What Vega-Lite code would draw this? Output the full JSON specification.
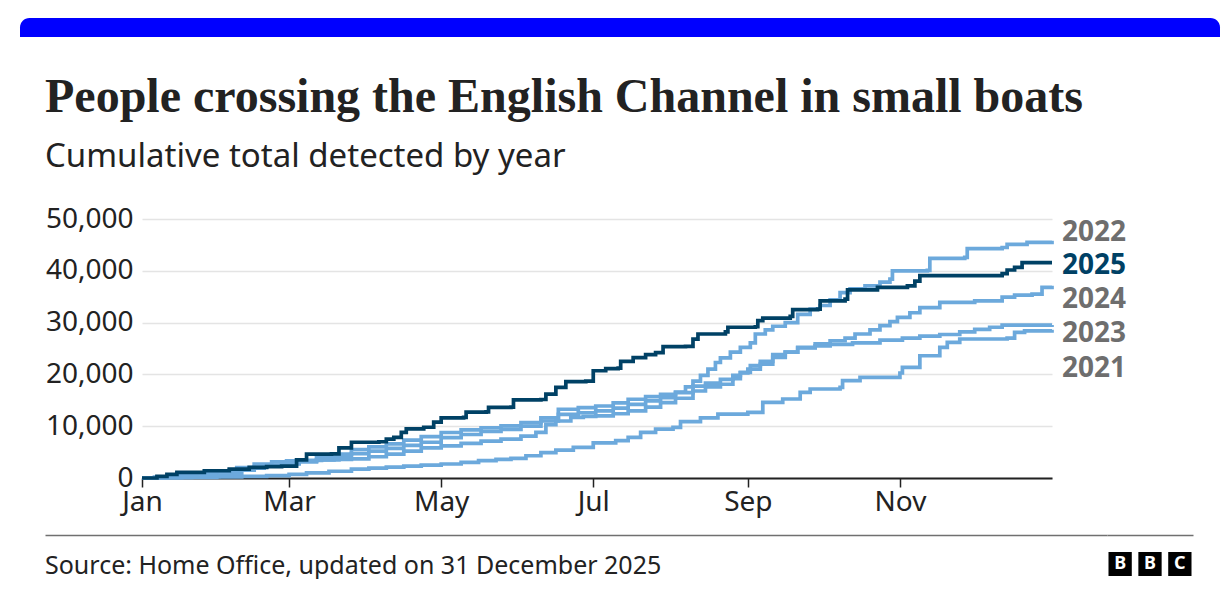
{
  "$schema": "https://vega.github.io/schema/vega-lite/v6.json",
  "background": "#ffffff",
  "padding": {"left": 20, "top": 18, "right": 2, "bottom": 0},
  "config": {"view": {"stroke": null}, "font": "Noto Sans"},
  "datasets": {
    "crossings": [
      {"year":"2021","day":0,"n":0},{"year":"2021","day":10,"n":50},{"year":"2021","day":20,"n":100},{"year":"2021","day":30,"n":200},{"year":"2021","day":40,"n":300},{"year":"2021","day":50,"n":450},{"year":"2021","day":59,"n":700},{"year":"2021","day":66,"n":1000},{"year":"2021","day":75,"n":1300},{"year":"2021","day":84,"n":1700},{"year":"2021","day":91,"n":1900},{"year":"2021","day":98,"n":2100},{"year":"2021","day":105,"n":2300},{"year":"2021","day":112,"n":2500},{"year":"2021","day":120,"n":2700},{"year":"2021","day":128,"n":3000},{"year":"2021","day":135,"n":3350},{"year":"2021","day":142,"n":3600},{"year":"2021","day":148,"n":3800},{"year":"2021","day":154,"n":4300},{"year":"2021","day":160,"n":4900},{"year":"2021","day":166,"n":5400},{"year":"2021","day":173,"n":5900},{"year":"2021","day":181,"n":6800},{"year":"2021","day":190,"n":7200},{"year":"2021","day":195,"n":7850},{"year":"2021","day":200,"n":8800},{"year":"2021","day":206,"n":9450},{"year":"2021","day":213,"n":9780},{"year":"2021","day":216,"n":10900},{"year":"2021","day":224,"n":11600},{"year":"2021","day":231,"n":12350},{"year":"2021","day":243,"n":12680},{"year":"2021","day":249,"n":14600},{"year":"2021","day":257,"n":15250},{"year":"2021","day":264,"n":16540},{"year":"2021","day":268,"n":17180},{"year":"2021","day":280,"n":17500},{"year":"2021","day":281,"n":18780},{"year":"2021","day":288,"n":19430},{"year":"2021","day":304,"n":20270},{"year":"2021","day":305,"n":21370},{"year":"2021","day":312,"n":23600},{"year":"2021","day":320,"n":25230},{"year":"2021","day":323,"n":26200},{"year":"2021","day":328,"n":26830},{"year":"2021","day":347,"n":27000},{"year":"2021","day":350,"n":28120},{"year":"2021","day":354,"n":28400},{"year":"2021","day":365,"n":28630},
      {"year":"2022","day":0,"n":0},{"year":"2022","day":5,"n":150},{"year":"2022","day":12,"n":500},{"year":"2022","day":20,"n":900},{"year":"2022","day":28,"n":1200},{"year":"2022","day":35,"n":1500},{"year":"2022","day":42,"n":1900},{"year":"2022","day":49,"n":2300},{"year":"2022","day":56,"n":2700},{"year":"2022","day":63,"n":3100},{"year":"2022","day":70,"n":3500},{"year":"2022","day":77,"n":4000},{"year":"2022","day":84,"n":4700},{"year":"2022","day":91,"n":5200},{"year":"2022","day":98,"n":5700},{"year":"2022","day":105,"n":6300},{"year":"2022","day":112,"n":6900},{"year":"2022","day":120,"n":7800},{"year":"2022","day":128,"n":8400},{"year":"2022","day":136,"n":9000},{"year":"2022","day":144,"n":9400},{"year":"2022","day":152,"n":10000},{"year":"2022","day":160,"n":11000},{"year":"2022","day":167,"n":12300},{"year":"2022","day":175,"n":12600},{"year":"2022","day":182,"n":12950},{"year":"2022","day":189,"n":13500},{"year":"2022","day":195,"n":14200},{"year":"2022","day":202,"n":14900},{"year":"2022","day":208,"n":15500},{"year":"2022","day":214,"n":16600},{"year":"2022","day":218,"n":17600},{"year":"2022","day":221,"n":18700},{"year":"2022","day":224,"n":19800},{"year":"2022","day":227,"n":21000},{"year":"2022","day":230,"n":22300},{"year":"2022","day":232,"n":23200},{"year":"2022","day":236,"n":24300},{"year":"2022","day":240,"n":25200},{"year":"2022","day":244,"n":26100},{"year":"2022","day":246,"n":27800},{"year":"2022","day":250,"n":28600},{"year":"2022","day":253,"n":29300},{"year":"2022","day":258,"n":30000},{"year":"2022","day":263,"n":31600},{"year":"2022","day":268,"n":32600},{"year":"2022","day":272,"n":33300},{"year":"2022","day":276,"n":34400},{"year":"2022","day":280,"n":35800},{"year":"2022","day":284,"n":36500},{"year":"2022","day":290,"n":37100},{"year":"2022","day":296,"n":37800},{"year":"2022","day":300,"n":38400},{"year":"2022","day":301,"n":40000},{"year":"2022","day":315,"n":40100},{"year":"2022","day":316,"n":42400},{"year":"2022","day":330,"n":42600},{"year":"2022","day":331,"n":44300},{"year":"2022","day":345,"n":44500},{"year":"2022","day":347,"n":45100},{"year":"2022","day":355,"n":45500},{"year":"2022","day":365,"n":45800},
      {"year":"2023","day":0,"n":0},{"year":"2023","day":6,"n":100},{"year":"2023","day":14,"n":400},{"year":"2023","day":22,"n":800},{"year":"2023","day":30,"n":1200},{"year":"2023","day":38,"n":2000},{"year":"2023","day":45,"n":2700},{"year":"2023","day":52,"n":3100},{"year":"2023","day":58,"n":3300},{"year":"2023","day":65,"n":3400},{"year":"2023","day":72,"n":3500},{"year":"2023","day":79,"n":3600},{"year":"2023","day":84,"n":3700},{"year":"2023","day":91,"n":4100},{"year":"2023","day":98,"n":4600},{"year":"2023","day":105,"n":5200},{"year":"2023","day":112,"n":5800},{"year":"2023","day":120,"n":6200},{"year":"2023","day":128,"n":6700},{"year":"2023","day":136,"n":7100},{"year":"2023","day":144,"n":7500},{"year":"2023","day":152,"n":8100},{"year":"2023","day":158,"n":8800},{"year":"2023","day":162,"n":10300},{"year":"2023","day":166,"n":11000},{"year":"2023","day":172,"n":11700},{"year":"2023","day":177,"n":11900},{"year":"2023","day":182,"n":12000},{"year":"2023","day":189,"n":12400},{"year":"2023","day":195,"n":12950},{"year":"2023","day":202,"n":13700},{"year":"2023","day":208,"n":14550},{"year":"2023","day":214,"n":15400},{"year":"2023","day":221,"n":16800},{"year":"2023","day":226,"n":17600},{"year":"2023","day":232,"n":18100},{"year":"2023","day":237,"n":19200},{"year":"2023","day":240,"n":20300},{"year":"2023","day":243,"n":21000},{"year":"2023","day":248,"n":22000},{"year":"2023","day":253,"n":23300},{"year":"2023","day":258,"n":24300},{"year":"2023","day":263,"n":25100},{"year":"2023","day":270,"n":25500},{"year":"2023","day":276,"n":25800},{"year":"2023","day":285,"n":26100},{"year":"2023","day":296,"n":26600},{"year":"2023","day":305,"n":27000},{"year":"2023","day":312,"n":27400},{"year":"2023","day":320,"n":27700},{"year":"2023","day":328,"n":28200},{"year":"2023","day":334,"n":28700},{"year":"2023","day":340,"n":29100},{"year":"2023","day":345,"n":29500},{"year":"2023","day":365,"n":29550},
      {"year":"2024","day":0,"n":0},{"year":"2024","day":8,"n":50},{"year":"2024","day":16,"n":150},{"year":"2024","day":24,"n":300},{"year":"2024","day":31,"n":450},{"year":"2024","day":36,"n":900},{"year":"2024","day":40,"n":1500},{"year":"2024","day":45,"n":2100},{"year":"2024","day":50,"n":2500},{"year":"2024","day":56,"n":2800},{"year":"2024","day":63,"n":3300},{"year":"2024","day":70,"n":3900},{"year":"2024","day":77,"n":4600},{"year":"2024","day":84,"n":5500},{"year":"2024","day":91,"n":6000},{"year":"2024","day":98,"n":6600},{"year":"2024","day":105,"n":7300},{"year":"2024","day":112,"n":8000},{"year":"2024","day":120,"n":8780},{"year":"2024","day":128,"n":9300},{"year":"2024","day":136,"n":9700},{"year":"2024","day":144,"n":10060},{"year":"2024","day":152,"n":10700},{"year":"2024","day":160,"n":11600},{"year":"2024","day":167,"n":13270},{"year":"2024","day":175,"n":13600},{"year":"2024","day":182,"n":13900},{"year":"2024","day":189,"n":14500},{"year":"2024","day":195,"n":15200},{"year":"2024","day":202,"n":15700},{"year":"2024","day":208,"n":16150},{"year":"2024","day":214,"n":16500},{"year":"2024","day":221,"n":17750},{"year":"2024","day":226,"n":18300},{"year":"2024","day":232,"n":19040},{"year":"2024","day":237,"n":19800},{"year":"2024","day":240,"n":20400},{"year":"2024","day":244,"n":21700},{"year":"2024","day":248,"n":22500},{"year":"2024","day":253,"n":23800},{"year":"2024","day":258,"n":24300},{"year":"2024","day":263,"n":25200},{"year":"2024","day":270,"n":25900},{"year":"2024","day":276,"n":26500},{"year":"2024","day":282,"n":27000},{"year":"2024","day":286,"n":27800},{"year":"2024","day":292,"n":28600},{"year":"2024","day":296,"n":29400},{"year":"2024","day":300,"n":30200},{"year":"2024","day":303,"n":31000},{"year":"2024","day":308,"n":31900},{"year":"2024","day":312,"n":32900},{"year":"2024","day":320,"n":33900},{"year":"2024","day":334,"n":34200},{"year":"2024","day":345,"n":34900},{"year":"2024","day":350,"n":35300},{"year":"2024","day":357,"n":35500},{"year":"2024","day":361,"n":36800},{"year":"2024","day":365,"n":37100},
      {"year":"2025","day":0,"n":0},{"year":"2025","day":6,"n":300},{"year":"2025","day":10,"n":700},{"year":"2025","day":14,"n":1100},{"year":"2025","day":25,"n":1400},{"year":"2025","day":35,"n":1700},{"year":"2025","day":43,"n":2060},{"year":"2025","day":50,"n":2200},{"year":"2025","day":56,"n":2300},{"year":"2025","day":62,"n":3500},{"year":"2025","day":66,"n":4600},{"year":"2025","day":76,"n":4650},{"year":"2025","day":79,"n":5800},{"year":"2025","day":84,"n":6900},{"year":"2025","day":95,"n":7000},{"year":"2025","day":98,"n":7500},{"year":"2025","day":101,"n":7850},{"year":"2025","day":104,"n":8800},{"year":"2025","day":106,"n":9500},{"year":"2025","day":113,"n":9800},{"year":"2025","day":117,"n":10800},{"year":"2025","day":120,"n":11600},{"year":"2025","day":129,"n":11700},{"year":"2025","day":130,"n":12700},{"year":"2025","day":138,"n":12750},{"year":"2025","day":139,"n":13650},{"year":"2025","day":148,"n":13700},{"year":"2025","day":149,"n":15100},{"year":"2025","day":160,"n":15150},{"year":"2025","day":162,"n":16200},{"year":"2025","day":166,"n":17500},{"year":"2025","day":170,"n":18600},{"year":"2025","day":178,"n":18700},{"year":"2025","day":181,"n":20700},{"year":"2025","day":186,"n":21100},{"year":"2025","day":191,"n":21200},{"year":"2025","day":192,"n":22500},{"year":"2025","day":197,"n":23250},{"year":"2025","day":202,"n":23800},{"year":"2025","day":206,"n":24200},{"year":"2025","day":209,"n":25350},{"year":"2025","day":218,"n":25400},{"year":"2025","day":221,"n":26800},{"year":"2025","day":223,"n":27800},{"year":"2025","day":234,"n":28200},{"year":"2025","day":235,"n":29100},{"year":"2025","day":246,"n":29200},{"year":"2025","day":247,"n":30400},{"year":"2025","day":249,"n":30850},{"year":"2025","day":260,"n":31200},{"year":"2025","day":261,"n":32500},{"year":"2025","day":271,"n":32600},{"year":"2025","day":272,"n":34200},{"year":"2025","day":282,"n":34550},{"year":"2025","day":283,"n":36300},{"year":"2025","day":295,"n":36800},{"year":"2025","day":307,"n":37100},{"year":"2025","day":310,"n":38000},{"year":"2025","day":312,"n":39050},{"year":"2025","day":345,"n":39450},{"year":"2025","day":347,"n":40150},{"year":"2025","day":350,"n":40670},{"year":"2025","day":353,"n":41570},{"year":"2025","day":365,"n":41570}
    ],
    "logo": [
      {"key": "B1", "letter": "B"},
      {"key": "B2", "letter": "B"},
      {"key": "C", "letter": "C"}
    ],
    "source": [
      {"text": "Source: Home Office, updated on 31 December 2025"}
    ]
  },
  "vconcat": [
    {
      "width": 1200,
      "height": 19,
      "data": {"values": [{}]},
      "mark": {"type": "rect", "color": "#0000ff", "cornerRadiusTopLeft": 16, "cornerRadiusTopRight": 16},
      "encoding": {}
    },
    {
      "spacing": 19,
      "vconcat": [
        {
          "spacing": 0,
          "hconcat": [
            {
              "width": 1,
              "height": 1,
              "data": {"values": [{}]},
              "mark": {"type": "rect", "color": "#ffffff", "opacity": 0},
              "encoding": {}
            },
            {
              "width": 910,
              "height": 259,
              "data": {"name": "crossings"},
              "title": {
                "text": "People crossing the English Channel in small boats",
                "subtitle": "Cumulative total detected by year",
                "anchor": "start",
                "frame": "bounds",
                "dx": 24,
                "offset": 31,
                "font": "Liberation Serif",
                "fontSize": 48,
                "fontWeight": "bold",
                "color": "#222222",
                "subtitleFont": "Noto Sans",
                "subtitleFontSize": 33,
                "subtitleColor": "#222222",
                "subtitlePadding": 19
              },
              "encoding": {
                "x": {
                  "field": "day",
                  "type": "quantitative",
                  "scale": {"domain": [0, 365], "nice": false, "zero": false},
                  "axis": {
                    "title": null,
                    "values": [0, 59, 120, 181, 243, 304],
                    "labelExpr": "datum.value == 0 ? 'Jan' : datum.value == 59 ? 'Mar' : datum.value == 120 ? 'May' : datum.value == 181 ? 'Jul' : datum.value == 243 ? 'Sep' : 'Nov'",
                    "grid": false,
                    "domainColor": "#222222",
                    "domainWidth": 2,
                    "tickColor": "#222222",
                    "tickWidth": 1.5,
                    "tickSize": 9,
                    "labelFont": "Noto Sans",
                    "labelFontSize": 28,
                    "labelColor": "#222222",
                    "labelPadding": 1,
                    "labelFlush": false
                  }
                },
                "y": {
                  "field": "n",
                  "type": "quantitative",
                  "scale": {"domain": [0, 50000], "nice": false},
                  "axis": {
                    "title": null,
                    "values": [0, 10000, 20000, 30000, 40000, 50000],
                    "format": ",.0f",
                    "grid": true,
                    "gridColor": "#e4e4e4",
                    "gridWidth": 1.5,
                    "domain": false,
                    "ticks": false,
                    "tickSize": 0,
                    "labelPadding": 9,
                    "labelFont": "Noto Sans",
                    "labelFontSize": 28,
                    "labelColor": "#222222",
                    "labelFlush": false,
                    "minExtent": 121,
                    "maxExtent": 121
                  }
                }
              },
              "layer": [
                {
                  "mark": {"type": "line", "interpolate": "step-after", "strokeWidth": 3.7},
                  "encoding": {
                    "color": {
                      "field": "year",
                      "type": "nominal",
                      "scale": {"domain": ["2021", "2022", "2023", "2024", "2025"], "range": ["#6ca9dc", "#6ca9dc", "#6ca9dc", "#6ca9dc", "#004165"]},
                      "legend": null
                    }
                  }
                },
                {
                  "transform": [{"filter": "datum.year == '2022' && datum.day == 365"}],
                  "mark": {"type": "text", "align": "left", "baseline": "middle", "dx": 10, "dy": -8, "font": "Noto Sans", "fontSize": 28, "fontWeight": "bold", "color": "#6e6e6e"},
                  "encoding": {"text": {"field": "year"}}
                },
                {
                  "transform": [{"filter": "datum.year == '2025' && datum.day == 365"}],
                  "mark": {"type": "text", "align": "left", "baseline": "middle", "dx": 10, "dy": 3, "font": "Noto Sans", "fontSize": 28, "fontWeight": "bold", "color": "#004165"},
                  "encoding": {"text": {"field": "year"}}
                },
                {
                  "transform": [{"filter": "datum.year == '2024' && datum.day == 365"}],
                  "mark": {"type": "text", "align": "left", "baseline": "middle", "dx": 10, "dy": 14, "font": "Noto Sans", "fontSize": 28, "fontWeight": "bold", "color": "#6e6e6e"},
                  "encoding": {"text": {"field": "year"}}
                },
                {
                  "transform": [{"filter": "datum.year == '2023' && datum.day == 365"}],
                  "mark": {"type": "text", "align": "left", "baseline": "middle", "dx": 10, "dy": 9, "font": "Noto Sans", "fontSize": 28, "fontWeight": "bold", "color": "#6e6e6e"},
                  "encoding": {"text": {"field": "year"}}
                },
                {
                  "transform": [{"filter": "datum.year == '2021' && datum.day == 365"}],
                  "mark": {"type": "text", "align": "left", "baseline": "middle", "dx": 10, "dy": 39, "font": "Noto Sans", "fontSize": 28, "fontWeight": "bold", "color": "#6e6e6e"},
                  "encoding": {"text": {"field": "year"}}
                }
              ]
            }
          ]
        },
        {
          "spacing": 0,
          "hconcat": [
            {
              "width": 1,
              "height": 1,
              "data": {"values": [{}]},
              "mark": {"type": "rect", "color": "#ffffff", "opacity": 0},
              "encoding": {}
            },
            {
              "width": 1062,
              "height": 24,
              "data": {"name": "source"},
              "mark": {"type": "text", "align": "left", "baseline": "middle", "dy": 2, "font": "Noto Sans", "fontSize": 25, "color": "#222222"},
              "encoding": {
                "text": {"field": "text"},
                "x": {
                  "datum": 0,
                  "type": "quantitative",
                  "scale": {"domain": [0, 1]},
                  "axis": {"orient": "top", "title": null, "labels": false, "ticks": false, "grid": false, "domain": true, "domainColor": "#707070", "domainWidth": 1.5, "offset": 17}
                },
                "y": {
                  "datum": "s",
                  "type": "nominal",
                  "axis": {"title": null, "labels": false, "ticks": false, "domain": false, "grid": false, "minExtent": 24, "maxExtent": 24}
                }
              }
            },
            {
              "width": 86,
              "height": 24,
              "data": {"name": "logo"},
              "encoding": {
                "x": {
                  "field": "key",
                  "type": "nominal",
                  "sort": null,
                  "scale": {"paddingInner": 0.22, "paddingOuter": 0.05},
                  "axis": {"orient": "top", "title": null, "labels": false, "ticks": false, "grid": false, "domain": true, "domainColor": "#707070", "domainWidth": 1.5, "offset": 17}
                }
              },
              "layer": [
                {"mark": {"type": "rect", "color": "#000000"}},
                {
                  "mark": {"type": "text", "color": "#ffffff", "font": "Noto Sans", "fontSize": 18, "fontWeight": "bold", "baseline": "middle"},
                  "encoding": {"text": {"field": "letter"}}
                }
              ]
            }
          ]
        }
      ]
    }
  ],
  "spacing": 37
}
